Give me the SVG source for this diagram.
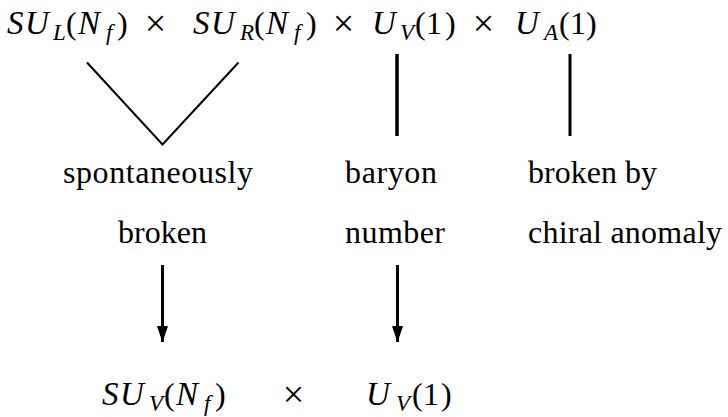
<svg xmlns="http://www.w3.org/2000/svg" width="728" height="417" viewBox="0 0 728 417">
<style>
.m{font-style:italic;font-size:33px;fill:#000}
.s{font-style:italic;font-size:23px;fill:#000}
.r{font-size:32px;fill:#000}
.x{font-size:38px;fill:#000}
.t{font-size:32px;fill:#000}
.ln{stroke:#000;fill:none}
</style>
<rect width="728" height="417" fill="#fff"/>
<g font-family="Liberation Serif, serif">
<g id="top-group">
  <text class="m" x="7" y="34">S</text><text class="m" x="25" y="34">U</text><text class="s" x="53" y="40">L</text>
  <text class="r" x="66" y="34">(</text>
  <text class="m" x="78" y="34">N<tspan x="106" dy="6" font-size="23">f</tspan></text>
  <text class="r" x="117" y="34">)</text>
  <text class="x" x="155.5" y="36" text-anchor="middle">×</text>
  <text class="m" x="193" y="34">S</text><text class="m" x="211" y="34">U</text><text class="s" x="240" y="40">R</text>
  <text class="r" x="254" y="34">(</text>
  <text class="m" x="266" y="34">N<tspan x="294" dy="6" font-size="23">f</tspan></text>
  <text class="r" x="306" y="34">)</text>
  <text class="x" x="343.5" y="36" text-anchor="middle">×</text>
  <text class="m" x="372" y="34">U</text><text class="s" x="400" y="40">V</text>
  <text class="r" x="415" y="34">(</text><text class="r" x="426" y="34">1</text><text class="r" x="445" y="34">)</text>
  <text class="x" x="483.5" y="36" text-anchor="middle">×</text>
  <text class="m" x="515" y="34">U</text><text class="s" x="544" y="40">A</text>
  <text class="r" x="559" y="34">(</text><text class="r" x="570" y="34">1</text><text class="r" x="586" y="34">)</text>
</g>
<g id="label-spont">
  <text class="t" x="63" y="183" textLength="190" lengthAdjust="spacing">spontaneously</text>
  <text class="t" x="118" y="243" textLength="89" lengthAdjust="spacing">broken</text>
</g>
<g id="label-baryon">
  <text class="t" x="345" y="183" textLength="92" lengthAdjust="spacing">baryon</text>
  <text class="t" x="345" y="243" textLength="100" lengthAdjust="spacing">number</text>
</g>
<g id="label-anomaly">
  <text class="t" x="528" y="183" textLength="129" lengthAdjust="spacing">broken by</text>
  <text class="t" x="528" y="243" textLength="194" lengthAdjust="spacing">chiral anomaly</text>
</g>
<g id="bottom-group">
  <text class="m" x="102" y="405">S</text><text class="m" x="120" y="405">U</text><text class="s" x="149" y="411">V</text>
  <text class="r" x="164" y="405">(</text>
  <text class="m" x="176" y="405">N<tspan x="204" dy="6" font-size="23">f</tspan></text>
  <text class="r" x="215" y="405">)</text>
  <text class="x" x="293.5" y="407" text-anchor="middle">×</text>
  <text class="m" x="366" y="405">U</text><text class="s" x="396" y="411">V</text>
  <text class="r" x="412" y="405">(</text><text class="r" x="423" y="405">1</text><text class="r" x="441" y="405">)</text>
</g>
</g>
<g id="connectors">
  <polyline class="ln" stroke-width="2" points="87,62.5 162.5,144.5 238.5,62.5"/>
  <line class="ln" stroke-width="3.5" x1="397" y1="54" x2="397" y2="136"/>
  <line class="ln" stroke-width="3" x1="570" y1="54" x2="570" y2="136"/>
  <line class="ln" stroke-width="3" x1="162.5" y1="265" x2="162.5" y2="342"/>
  <path d="M157,326 L168,326 L164,338 L164,342 L161,342 L161,338 Z" fill="#000"/>
  <line class="ln" stroke-width="3" x1="397.5" y1="265" x2="397.5" y2="342"/>
  <path d="M392,326 L403,326 L399,338 L399,342 L396,342 L396,338 Z" fill="#000"/>
</g>
</svg>
